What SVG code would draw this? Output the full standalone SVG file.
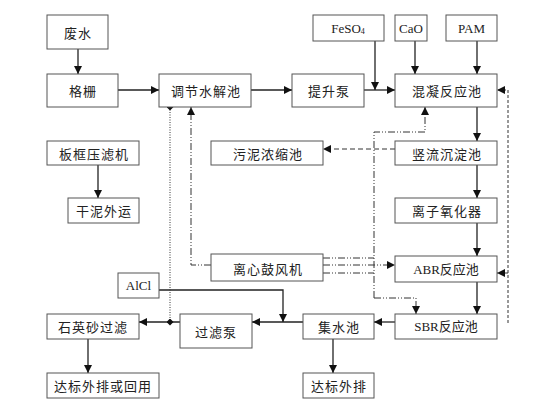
<svg xmlns="http://www.w3.org/2000/svg" width="559" height="417" viewBox="0 0 559 417">
<style>
.b{fill:#fff;stroke:#555;stroke-width:1}
.t{font-family:"Noto Sans CJK SC","Liberation Serif",sans-serif;font-size:13px;fill:#222;text-anchor:middle;dominant-baseline:central;letter-spacing:1px}
.l{font-family:"Liberation Serif","Noto Sans CJK SC",serif;font-size:13px;fill:#222;text-anchor:middle;dominant-baseline:central}
.s{fill:none;stroke:#222;stroke-width:1.3}
.dash{fill:none;stroke:#333;stroke-width:1;stroke-dasharray:5 3}
.sdash{fill:none;stroke:#333;stroke-width:1;stroke-dasharray:3 2}
.dd{fill:none;stroke:#333;stroke-width:1;stroke-dasharray:7 2 1 2 1 2}
.dot{fill:none;stroke:#333;stroke-width:1;stroke-dasharray:1 1.5}
</style>
<defs>
<marker id="a" viewBox="0 0 10 10" refX="10" refY="5" markerWidth="8" markerHeight="8" markerUnits="userSpaceOnUse" orient="auto"><path d="M0,0 L10,5 L0,10 z" fill="#111"/></marker>
<marker id="d" viewBox="0 0 10 10" refX="5" refY="5" markerWidth="7" markerHeight="7" markerUnits="userSpaceOnUse"><path d="M5,0 L10,5 L5,10 L0,5 z" fill="#111"/></marker>
</defs>
<rect width="559" height="417" fill="#fff"/>
<g id="connectors">
<path class="s" d="M78,49 V74" marker-end="url(#a)"/>
<path class="s" d="M118,90 H159" marker-end="url(#a)"/>
<path class="s" d="M251,90 H292" marker-end="url(#a)"/>
<path class="s" d="M364,90 H395" marker-end="url(#a)"/>
<path class="s" d="M375,41 V90" marker-end="url(#a)"/>
<path class="s" d="M415,41 V74" marker-end="url(#a)"/>
<path class="s" d="M477,41 V74" marker-end="url(#a)"/>
<path class="s" d="M477,107 V141" marker-end="url(#a)"/>
<path class="s" d="M477,165 V198" marker-end="url(#a)"/>
<path class="s" d="M477,223 V256" marker-end="url(#a)"/>
<path class="s" d="M477,282 V314" marker-end="url(#a)"/>
<path class="s" d="M395,322 H374" marker-end="url(#a)"/>
<path class="s" d="M303,322 H252" marker-end="url(#a)"/>
<path class="s" d="M180,322 H139" marker-end="url(#a)"/>
<path class="s" d="M159,290 H283 V322" marker-end="url(#a)"/>
<path class="s" d="M333,339 V373" marker-end="url(#a)"/>
<path class="s" d="M88,339 V373" marker-end="url(#a)"/>
<path class="s" d="M98,165 V198" marker-end="url(#a)"/>
<path class="dash" d="M395,149 H323" marker-end="url(#a)"/>
<path class="sdash" d="M508,323 V90 H497" marker-end="url(#a)"/>
<path class="sdash" d="M508,273 H497" marker-end="url(#a)"/>
<path class="dd" d="M374,298 V132 H425 V107" marker-end="url(#a)"/>
<path class="dd" d="M374,298 H416 V314" marker-end="url(#a)"/>
<path class="dd" d="M323,258 H374"/>
<path class="dd" d="M323,273 H374"/>
<path class="dd" d="M323,265 H395" marker-end="url(#a)"/>
<path class="dd" d="M211,265 H191 V107" marker-end="url(#a)"/>
<path class="dot" d="M170,107 V322" marker-start="url(#d)" marker-end="url(#d)"/>
</g>
<g id="feishui"><rect class="b" x="47" y="15" width="61" height="34"/><text class="t" x="78" y="32">废水</text></g>
<g id="gezha"><rect class="b" x="47" y="74" width="71" height="33"/><text class="t" x="83" y="90.5">格栅</text></g>
<g id="tiaojie"><rect class="b" x="159" y="74" width="92" height="33"/><text class="t" x="206" y="90.5">调节水解池</text></g>
<g id="tishengbeng"><rect class="b" x="292" y="74" width="72" height="33"/><text class="t" x="329" y="90.5">提升泵</text></g>
<g id="hunning"><rect class="b" x="395" y="74" width="102" height="33"/><text class="t" x="447" y="90.5">混凝反应池</text></g>
<g id="feso4"><rect class="b" x="313" y="15" width="71" height="26"/><text class="l" x="348" y="28">FeSO<tspan font-size="8" dy="3">4</tspan></text></g>
<g id="cao"><rect class="b" x="395" y="15" width="32" height="26"/><text class="l" x="411" y="28">CaO</text></g>
<g id="pam"><rect class="b" x="446" y="15" width="51" height="26"/><text class="l" x="471.5" y="28">PAM</text></g>
<g id="bankuang"><rect class="b" x="47" y="141" width="92" height="24"/><text class="t" x="94" y="153">板框压滤机</text></g>
<g id="ganni"><rect class="b" x="68" y="198" width="71" height="25"/><text class="t" x="104" y="210.5">干泥外运</text></g>
<g id="wuni"><rect class="b" x="211" y="141" width="112" height="24"/><text class="t" x="268" y="153">污泥浓缩池</text></g>
<g id="shuliu"><rect class="b" x="395" y="141" width="102" height="24"/><text class="t" x="447" y="153">竖流沉淀池</text></g>
<g id="lizi"><rect class="b" x="395" y="198" width="102" height="25"/><text class="t" x="447" y="210.5">离子氧化器</text></g>
<g id="lixin"><rect class="b" x="211" y="254" width="112" height="27"/><text class="t" x="268" y="268">离心鼓风机</text></g>
<g id="abr"><rect class="b" x="395" y="256" width="102" height="26"/><text class="l" x="446" y="269">ABR反应池</text></g>
<g id="alcl"><rect class="b" x="118" y="273" width="41" height="25"/><text class="l" x="138.5" y="285.5" font-size="11">AlCl</text></g>
<g id="shiying"><rect class="b" x="47" y="314" width="92" height="25"/><text class="t" x="93" y="326.5">石英砂过滤</text></g>
<g id="guolv"><rect class="b" x="180" y="314" width="72" height="34"/><text class="t" x="216" y="331">过滤泵</text></g>
<g id="jishui"><rect class="b" x="303" y="314" width="71" height="25"/><text class="t" x="339" y="326.5">集水池</text></g>
<g id="sbr"><rect class="b" x="395" y="314" width="102" height="25"/><text class="l" x="446" y="326.5">SBR反应池</text></g>
<g id="dabiao2"><rect class="b" x="47" y="373" width="112" height="25"/><text class="t" x="103" y="385.5">达标外排或回用</text></g>
<g id="dabiao1"><rect class="b" x="303" y="373" width="71" height="25"/><text class="t" x="339" y="385.5">达标外排</text></g>
</svg>
